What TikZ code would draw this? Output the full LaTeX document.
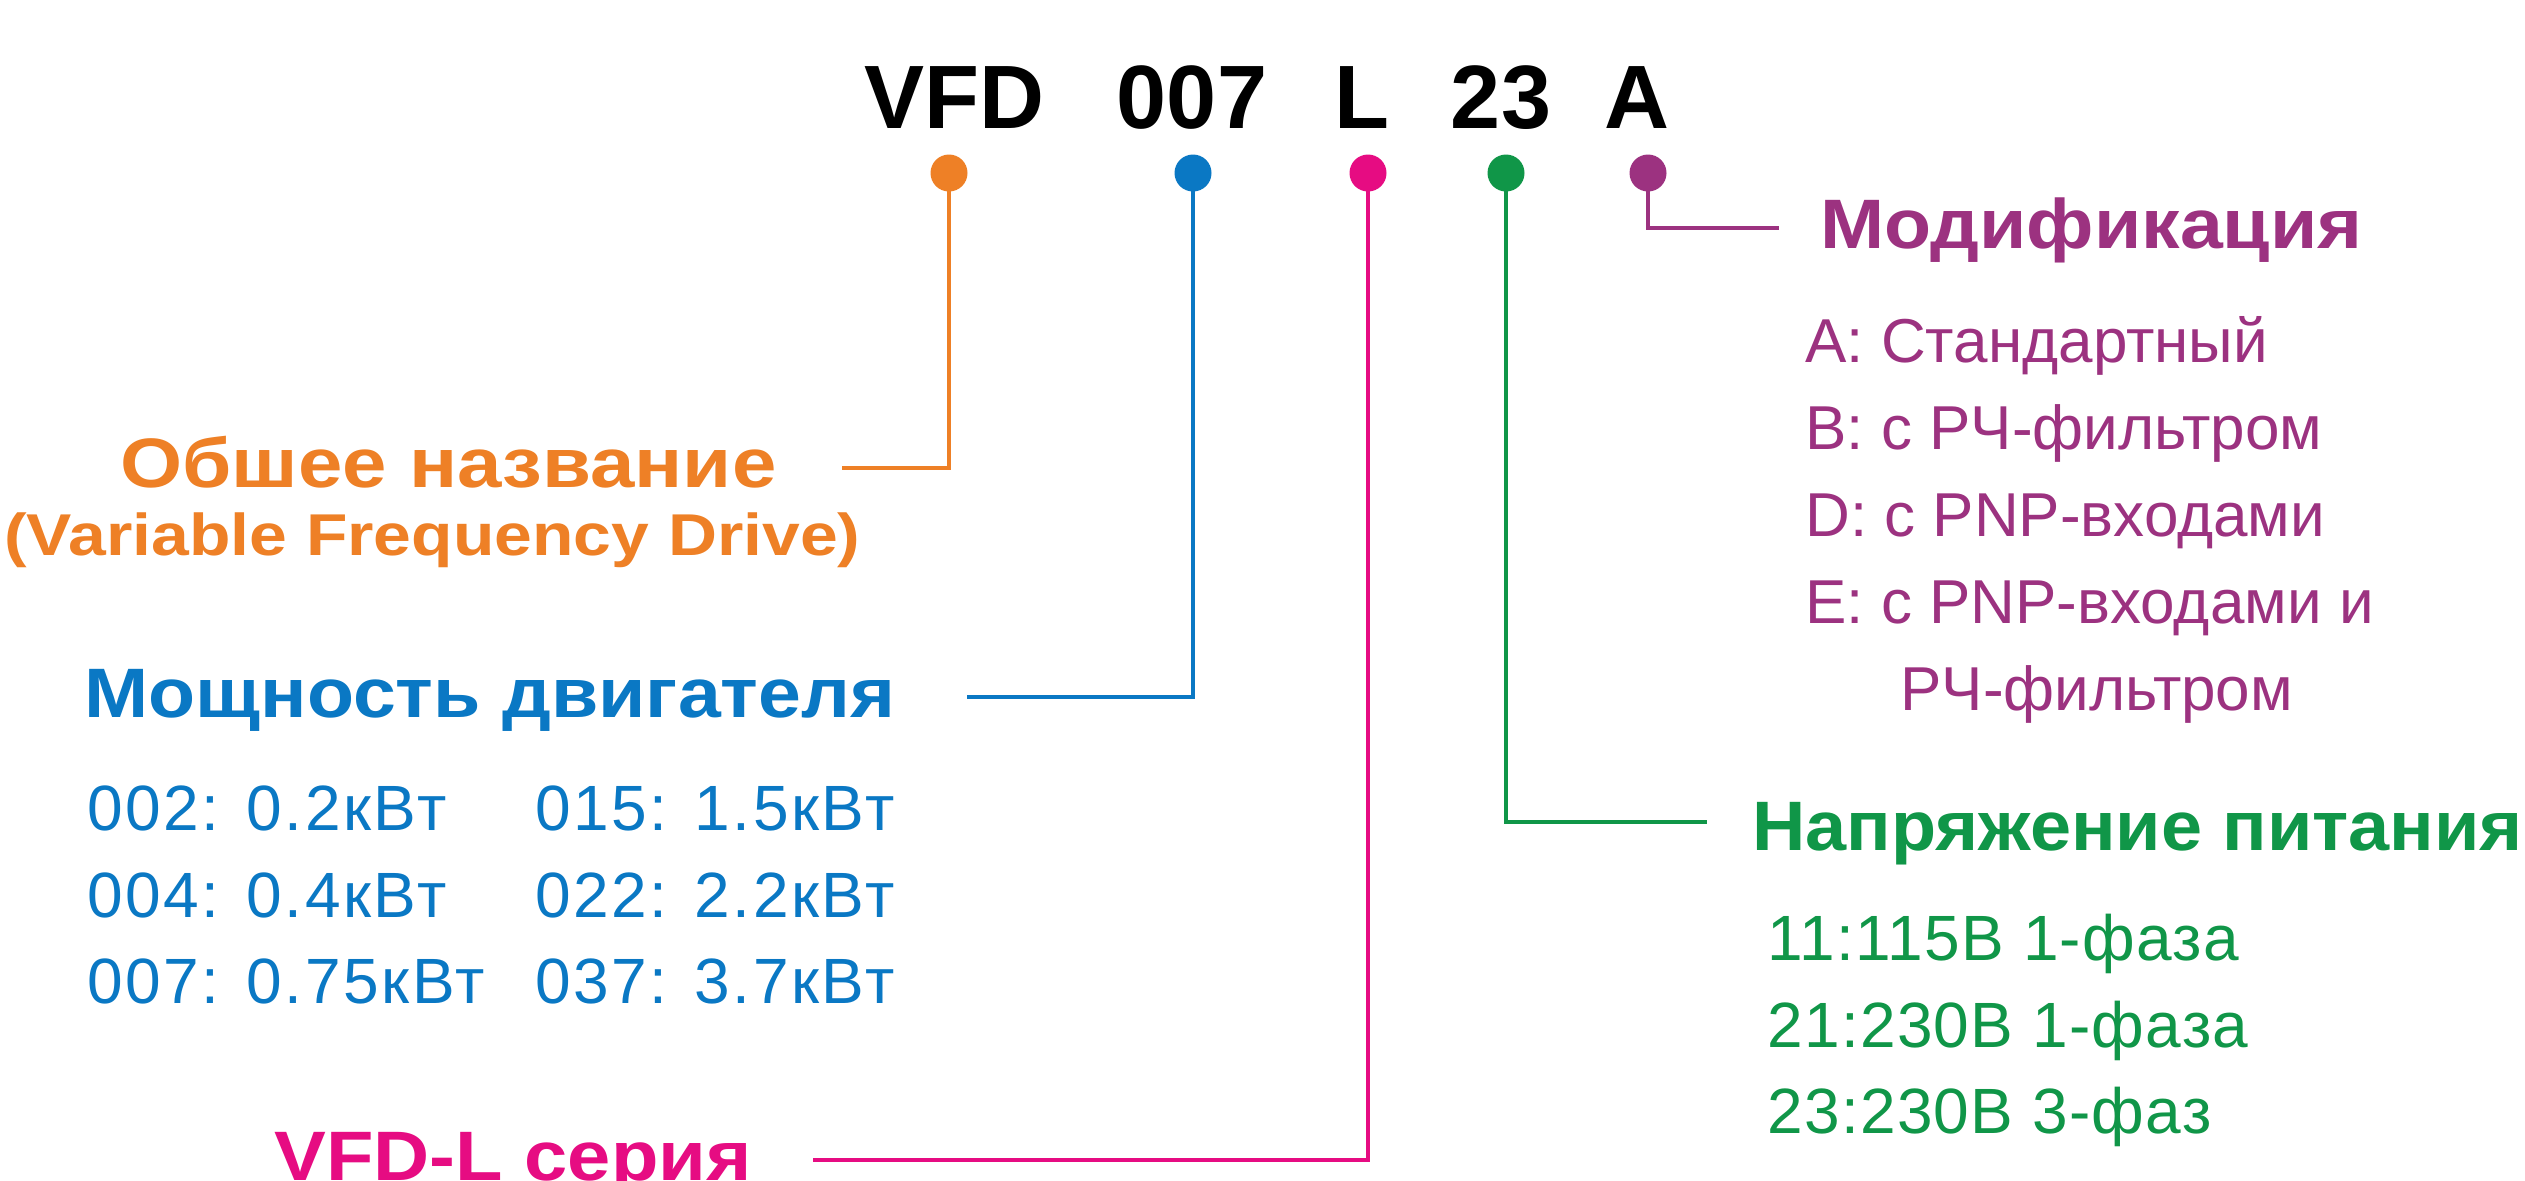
\documentclass[tikz,border=0pt]{standalone}
\usepackage{graphicx}
\usepackage{fontspec}
\setmainfont{Liberation Sans}
\newfontfamily\lsFour[LetterSpace=4]{Liberation Sans}
\newfontfamily\lsTwo[LetterSpace=2]{Liberation Sans}
\newcommand{\hstretch}[2]{\scalebox{#1}[1]{#2}}
\definecolor{cOr}{RGB}{238,128,38}
\definecolor{cBl}{RGB}{10,120,196}
\definecolor{cPk}{RGB}{230,12,130}
\definecolor{cGr}{RGB}{16,150,72}
\definecolor{cPu}{RGB}{156,50,128}
\begin{document}
\begin{tikzpicture}[x=0.5pt,y=-0.5pt,
  titletxt/.style={font=\fontsize{45}{50}\selectfont\bfseries, text=black, anchor=base, inner sep=0pt},
  headtxt/.style={font=\fontsize{35}{40}\selectfont\bfseries, inner sep=0pt, anchor=base west},
  subtxt/.style={font=\fontsize{29.5}{34}\selectfont\bfseries, inner sep=0pt, anchor=base west},
  itemtxt/.style={font=\fontsize{32}{36}\selectfont, inner sep=0pt, anchor=base west},
  dotnode/.style={circle, inner sep=0pt, minimum size=18.5pt},
  conn/.style={line width=2.3pt}]
\fill[white] (0,0) rectangle (2525,1180);
\useasboundingbox (0,0) rectangle (2525,1180);

% title segments
\node[titletxt] (tVFD) at (954,128) {VFD};
\node[titletxt] (t007) at (1192,128) {007};
\node[titletxt] (tL) at (1362,128) {L};
\node[titletxt] (t23) at (1501,128) {23};
\node[titletxt] (tA) at (1637,128) {A};

% dots
\node[dotnode, fill=cOr] (dO) at (949,173) {};
\node[dotnode, fill=cBl] (dB) at (1193,173) {};
\node[dotnode, fill=cPk] (dP) at (1368,173) {};
\node[dotnode, fill=cGr] (dG) at (1506,173) {};
\node[dotnode, fill=cPu] (dU) at (1648,173) {};

% orange
\node[headtxt, text=cOr] (hO) at (120,487) {\hstretch{1.14}{Обшее название}};
\node[subtxt, text=cOr] (sO) at (4,555) {\hstretch{1.15}{(Variable Frequency Drive)}};
\coordinate (eO) at (842,468);
\draw[conn, cOr] (dO.center) |- (eO);

% blue
\node[headtxt, text=cBl] (hB) at (84,717) {\hstretch{1.10}{Мощность двигателя}};
\coordinate (eB) at (967,697);
\draw[conn, cBl] (dB.center) |- (eB);
\begin{scope}[itemtxt/.append style={font=\lsFour\fontsize{32}{36}\selectfont}]
\node[itemtxt, text=cBl] (b1) at (87,830) {002: 0.2кВт};
\node[itemtxt, text=cBl] (b2) at (87,917) {004: 0.4кВт};
\node[itemtxt, text=cBl] (b3) at (87,1003) {007: 0.75кВт};
\node[itemtxt, text=cBl] (b4) at (535,830) {015: 1.5кВт};
\node[itemtxt, text=cBl] (b5) at (535,917) {022: 2.2кВт};
\node[itemtxt, text=cBl] (b6) at (535,1003) {037: 3.7кВт};
\end{scope}

% pink
\node[headtxt, text=cPk] (hP) at (274,1180) {\hstretch{1.11}{VFD-L серия}};
\coordinate (eP) at (813,1160);
\draw[conn, cPk] (dP.center) |- (eP);

% green
\node[headtxt, text=cGr] (hG) at (1752,850) {\hstretch{1.055}{Напряжение питания}};
\coordinate (eG) at (1707,822);
\draw[conn, cGr] (dG.center) |- (eG);
\begin{scope}[itemtxt/.append style={font=\lsTwo\fontsize{32}{36}\selectfont}]
\node[itemtxt, text=cGr] (g1) at (1767,960) {11:115В 1-фаза};
\node[itemtxt, text=cGr] (g2) at (1767,1047) {21:230В 1-фаза};
\node[itemtxt, text=cGr] (g3) at (1767,1133) {23:230В 3-фаз};
\end{scope}

% purple
\node[headtxt, text=cPu] (hU) at (1820,248) {\hstretch{1.10}{Модификация}};
\coordinate (eU) at (1779,228);
\draw[conn, cPu] (dU.center) |- (eU);
\begin{scope}[itemtxt/.append style={font=\fontsize{31}{36}\selectfont}]
\node[itemtxt, text=cPu] (u1) at (1805,362) {A: Стандартный};
\node[itemtxt, text=cPu] (u2) at (1805,449) {B: с РЧ-фильтром};
\node[itemtxt, text=cPu] (u3) at (1805,536) {D: с PNP-входами};
\node[itemtxt, text=cPu] (u4) at (1805,623) {E: с PNP-входами и};
\node[itemtxt, text=cPu] (u5) at (1900,710) {РЧ-фильтром};
\end{scope}
\end{tikzpicture}
\end{document}
